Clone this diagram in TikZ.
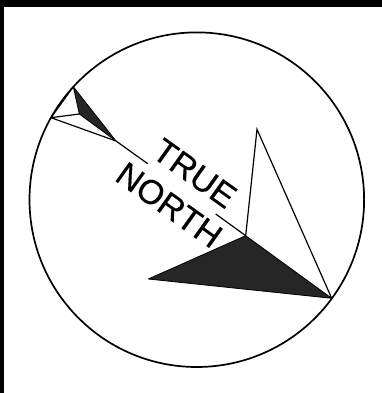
\documentclass[tikz,border=0pt]{standalone}
\usepackage{fontspec}
\setmainfont{Liberation Sans}
\newfontfamily\compassfont[FakeBold=0.4]{Liberation Sans}
\definecolor{darkfill}{HTML}{262626}
\tikzset{
  compassline/.style={draw=black,line width=1.2pt,line join=miter},
  darkwedge/.style={fill=darkfill,draw=black,line width=0.8pt,line join=round},
  rimline/.style={draw=black,line width=1.7pt},
  northlabel/.style={font=\compassfont\fontsize{34}{34}\selectfont,rotate=-35.5,inner sep=0pt,anchor=center,text=black}
}
\begin{document}
\begin{tikzpicture}[x=1pt,y=-1pt]
\useasboundingbox (0,0) rectangle (382,393);
\fill[white] (0,0) rectangle (382,393);
\fill[black] (0,0) rectangle (382,7);
\fill[black] (0,0) rectangle (4,393);
\draw[rimline] (196.8,199.7) circle [radius=167.3];
% tail
\coordinate (tailtop) at (73.3,86.7);
\coordinate (tailmid) at (79.3,114);
\coordinate (tailleft) at (51,117.7);
\coordinate (tailtip) at (116,141);
\coordinate (shaftend) at (147.7,163.7);
\coordinate (shaftstart) at (215.7,214);
\coordinate (hub) at (245.7,235.7);
\coordinate (headtop) at (257,129.3);
\coordinate (headright) at (331.7,298.3);
\coordinate (headleft) at (148.3,279);
\path[darkwedge] (tailtop) -- (tailmid) -- (tailtip) -- cycle;
\draw[compassline] (tailtop) -- (tailleft) -- (tailmid);
\draw[compassline] (tailleft) -- (tailtip) -- (shaftend);
% head
\path[darkwedge] (hub) -- (headright) -- (headleft) -- cycle;
\draw[compassline] (hub) -- (headtop) -- (headright);
\draw[compassline] (shaftstart) -- (hub);
\node[northlabel] (trueword) at (194.7,173.5) {TRUE};
\node[northlabel] (northword) at (169.2,205) {NORTH};
\end{tikzpicture}
\end{document}
